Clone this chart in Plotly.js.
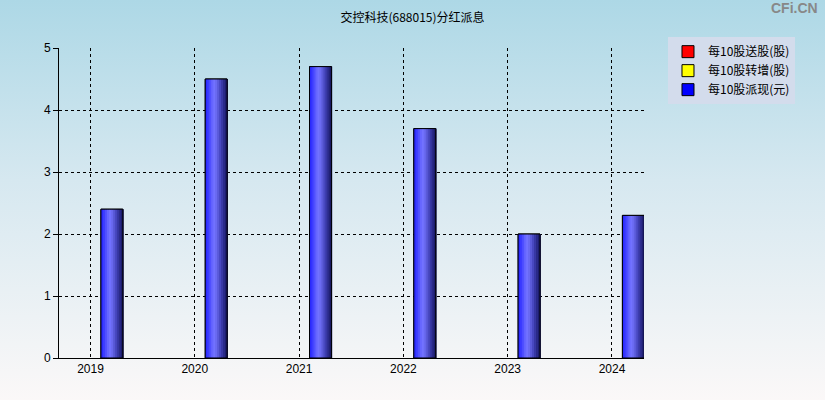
<!DOCTYPE html>
<html>
<head>
<meta charset="utf-8">
<script src="https://cdn.plot.ly/plotly-3.0.1.min.js"></script>
<style>
  html, body { margin: 0; padding: 0; }
  body { width: 825px; height: 400px; background: linear-gradient(to bottom, #add8e6 0%, #d6e8f0 45%, #fbf8f8 100%); }
  #chart { width: 825px; height: 400px; }
</style>
</head>
<body>
<div id="chart"></div>
<script>
// 交控科技 分红派息 (每10股)
const years = [2019, 2020, 2021, 2022, 2023, 2024];
const songGu = [0, 0, 0, 0, 0, 0];      // 每10股送股(股)
const zhuanZeng = [0, 0, 0, 0, 0, 0];   // 每10股转增(股)
const paiXian = [2.4, 4.5, 4.7, 3.7, 2.0, 2.3]; // 每10股派现(元)
const yTicks = [0, 1, 2, 3, 4, 5];

const barOffset = 0.1;
const barWidth = 0.21;
// 柱子的渐变色（左 -> 右）
const shade = ['#2b2bff', '#3c3cff', '#5050ff', '#6666ff', '#7272ff', '#6a6af0',
               '#5a5ad8', '#4848c0', '#3838a4', '#2a2a88', '#1c1c6c'];

const font = 'Liberation Sans, Arial, Noto Sans CJK SC, sans-serif';
const cjk = 'Noto Sans CJK SC, Liberation Sans, sans-serif';

let traces = [];
traces.push({ type: 'bar', x: years, y: songGu, name: '每10股送股(股)',
  offset: barOffset, width: barWidth,
  marker: { color: '#ff0000', line: { color: '#000', width: 1 } }, hoverinfo: 'skip' });
traces.push({ type: 'bar', x: years, y: zhuanZeng, name: '每10股转增(股)',
  offset: barOffset, width: barWidth,
  marker: { color: '#ffff00', line: { color: '#000', width: 1 } }, hoverinfo: 'skip' });
traces.push({ type: 'bar', x: years, y: paiXian, name: '每10股派现(元)',
  offset: barOffset, width: barWidth,
  marker: { color: '#0000ff', line: { color: '#000', width: 1 } }, hoverinfo: 'skip' });

let sw = barWidth / shade.length;
for (let i = 0; i < shade.length; i++) {
  traces.push({ type: 'bar', x: years, y: paiXian, showlegend: false,
    offset: barOffset + i * sw, width: sw * 1.4,
    marker: { color: shade[i], line: { width: 0 } }, hoverinfo: 'skip' });
}
traces.push({ type: 'bar', x: years, y: paiXian, showlegend: false,
  offset: barOffset, width: barWidth,
  marker: { color: 'rgba(0,0,0,0)', line: { color: '#000', width: 1 } }, hoverinfo: 'skip' });

let layout = {
  width: 825, height: 400,
  margin: { l: 59, r: 181, t: 48, b: 42 },
  paper_bgcolor: 'rgba(0,0,0,0)', plot_bgcolor: 'rgba(0,0,0,0)',
  barmode: 'overlay',
  title: { text: '交控科技(688015)分红派息', font: { family: cjk, size: 12, color: '#000' },
           x: 0.5, xanchor: 'center', y: 0.955, yanchor: 'middle' },
  xaxis: { range: [2018.698, 2024.307], tickvals: years, ticktext: years.map(String),
           showgrid: true, gridcolor: '#000', gridwidth: 1, griddash: '3px,3px',
           showline: true, linecolor: '#000', linewidth: 1, ticks: '', zeroline: false,
           tickfont: { family: font, size: 12, color: '#000' }, fixedrange: true },
  yaxis: { range: [0, 5], tickvals: yTicks,
           showgrid: true, gridcolor: '#000', gridwidth: 1, griddash: '3px,3px',
           showline: true, linecolor: '#000', linewidth: 1, ticks: 'outside', ticklen: 5,
           tickcolor: '#000', zeroline: false,
           tickfont: { family: font, size: 12, color: '#000' }, fixedrange: true },
  legend: { x: 1.041, y: 1.035, xanchor: 'left', yanchor: 'top',
            bgcolor: '#d3dcec', borderwidth: 0, tracegroupgap: 0,
            font: { family: cjk, size: 12, color: '#000' }, itemwidth: 30 },
  annotations: [{ xref: 'paper', yref: 'paper', x: 1.3, y: 1.13, xanchor: 'right', yanchor: 'middle',
                  text: '<b>CFi.CN</b>', showarrow: false,
                  font: { family: font, size: 14, color: '#888' } }]
};

Plotly.newPlot('chart', traces, layout, { displayModeBar: false, staticPlot: true });
</script>
</body>
</html>
